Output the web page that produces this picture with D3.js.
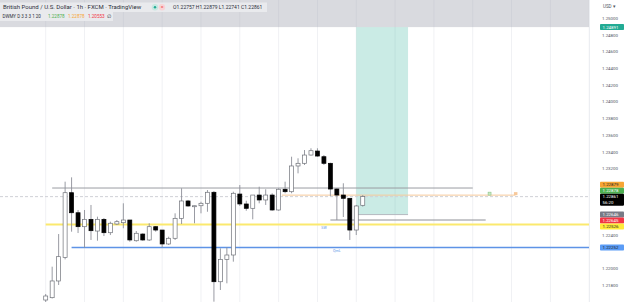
<!DOCTYPE html>
<html>
<head>
<meta charset="utf-8">
<script src="https://cdn.jsdelivr.net/npm/d3@7"></script>
<style>
  html, body { margin: 0; padding: 0; background: #fff; }
  svg { display: block; font-family: Roboto, "Noto Sans", sans-serif; }
</style>
</head>
<body>
<div id="app"></div>
<script>
// GBPUSD 1h candles
const opens = [1.21623, 1.21651, 1.21851, 1.22134, 1.22908, 1.22668, 1.22501, 1.22589, 1.22449, 1.22589,
  1.22429, 1.22533, 1.22549, 1.22581, 1.22333, 1.22413, 1.22342, 1.22501, 1.22461, 1.22294,
  1.22362, 1.22601, 1.22809, 1.22743, 1.22752, 1.22781, 1.22913, 1.21842, 1.22110, 1.22162,
  1.22892, 1.22773, 1.22721, 1.22880, 1.22821, 1.22880, 1.22701, 1.22949, 1.22920, 1.23228,
  1.23260, 1.23359, 1.23407, 1.23339, 1.23260, 1.22952, 1.22880, 1.22841, 1.22461, 1.22757];
const highs = [1.21695, 1.22022, 1.22413, 1.23040, 1.23092, 1.22701, 1.22701, 1.22761, 1.22621, 1.22605,
  1.22561, 1.22581, 1.22781, 1.22581, 1.22449, 1.22422, 1.22542, 1.22509, 1.22461, 1.22381,
  1.22661, 1.22961, 1.22821, 1.22752, 1.22800, 1.22940, 1.22928, 1.22242, 1.22254, 1.22920,
  1.23000, 1.22812, 1.22880, 1.22980, 1.22949, 1.22901, 1.22961, 1.23040, 1.23339, 1.23320,
  1.23419, 1.23440, 1.23440, 1.23359, 1.23267, 1.22961, 1.23021, 1.22841, 1.22761, 1.22879];
const lows = [1.21587, 1.21641, 1.21803, 1.22110, 1.22441, 1.22425, 1.22249, 1.22342, 1.22333, 1.22389,
  1.22401, 1.22521, 1.22482, 1.22321, 1.22321, 1.22333, 1.22330, 1.22441, 1.22254, 1.22282,
  1.22342, 1.22533, 1.22740, 1.22542, 1.22661, 1.22680, 1.21603, 1.21743, 1.21823, 1.22082,
  1.22749, 1.22692, 1.22589, 1.22781, 1.22761, 1.22692, 1.22692, 1.22901, 1.22901, 1.23140,
  1.23240, 1.23353, 1.23339, 1.23240, 1.22868, 1.22581, 1.22617, 1.22342, 1.22401, 1.22741];
const closes = [1.21671, 1.21851, 1.22142, 1.22908, 1.22668, 1.22501, 1.22589, 1.22453, 1.22589, 1.22429,
  1.22542, 1.22561, 1.22581, 1.22342, 1.22422, 1.22342, 1.22501, 1.22461, 1.22294, 1.22362,
  1.22601, 1.22809, 1.22749, 1.22752, 1.22781, 1.22913, 1.21842, 1.22110, 1.22162, 1.22901,
  1.22773, 1.22721, 1.22880, 1.22821, 1.22880, 1.22701, 1.22949, 1.22920, 1.23228, 1.23260,
  1.23359, 1.23411, 1.23347, 1.23260, 1.22952, 1.22880, 1.22841, 1.22461, 1.22749, 1.22861];

const priceTicks = [1.25, 1.248, 1.246, 1.244, 1.242, 1.24, 1.238, 1.236, 1.234, 1.232,
  1.23, 1.228, 1.226, 1.224, 1.222, 1.22, 1.218, 1.216];

// drawn levels: [price, first bar, last bar]
const rangeHigh = [1.22964, 1, 66];
const entryLine = [1.22879, 36.5, 72.6];
const sweepLow = [1.22581, 44, 68];
const yellowLevel = [1.22526, 0, 90];
const blueLevel = [1.22252, 4, 90];
const targetBox = [1.24891, 1.22646, 48, 56];
const lastPrice = 1.22861;
const countdown = '56:20';

const noteSW = [43, 1.22497, 'SW'];
const noteQml = [45, 1.22210, 'QmL'];

// price scale badges
const badgeValues = [1.24891, 1.22879, 1.22878, 1.22861, 1.22646, 1.22645, 1.22526, 1.22252];
const badgeFill = ['#22ab94', '#f7a534', '#4caf50', '#000000', '#787b86', '#f23645', '#ffeb3b', '#5b9cf6'];
const badgeInk = ['#fff', '#222', '#fff', '#fff', '#fff', '#fff', '#222', '#222'];

const title = 'British Pound / U.S. Dollar · 1h · FXCM · TradingView';
const ohlc = 'O1.22757 H1.22879 L1.22741 C1.22861';
const studyName = 'DWMY D 3 3 3 1 20';
const studyValues = ['1.22878', '1.22878', '1.20553'];

const width = 625;
const height = 302;
const plotRight = 590;

const svg = d3.select('#app')
  .append('svg')
  .attr('width', width)
  .attr('height', height);

const x = d3.scaleLinear()
  .domain([0, 84])
  .range([45.7, 589.2]);

const y = d3.scaleLinear()
  .domain([1.216, 1.25])
  .range([18 + 0.034 * 8351, 18]);

svg.append('defs').append('clipPath').attr('id', 'plot')
  .append('rect').attr('width', plotRight).attr('height', height);

const plot = svg.append('g').attr('clip-path', 'url(#plot)');

// vertical grid, one every 6 bars
plot.selectAll('line.grid')
  .data(d3.range(0, 85, 6))
  .join('line')
  .attr('x1', d => x(d)).attr('x2', d => x(d))
  .attr('y1', 0).attr('y2', height)
  .attr('stroke', '#f0f1f4')
  .attr('stroke-width', 1);

// grey band at the top
plot.append('rect')
  .attr('x', 0).attr('y', 0)
  .attr('width', plotRight).attr('height', y(targetBox[0]))
  .attr('fill', 'rgba(165,167,178,0.42)');

// target box
plot.append('rect')
  .attr('x', x(targetBox[2])).attr('y', y(targetBox[0]))
  .attr('width', x(targetBox[3]) - x(targetBox[2]))
  .attr('height', y(targetBox[1]) - y(targetBox[0]))
  .attr('fill', 'rgba(34,171,148,0.24)');
plot.append('line')
  .attr('x1', x(targetBox[2])).attr('x2', x(targetBox[3]))
  .attr('y1', y(targetBox[1])).attr('y2', y(targetBox[1]))
  .attr('stroke', '#b5b8bf').attr('stroke-width', 1);

function level(l, color, w) {
  plot.append('line')
    .attr('x1', x(l[1])).attr('x2', x(l[2]))
    .attr('y1', y(l[0])).attr('y2', y(l[0]))
    .attr('stroke', color).attr('stroke-width', w);
}

// last price dashed line
plot.append('line')
  .attr('x1', 0).attr('x2', plotRight)
  .attr('y1', y(lastPrice)).attr('y2', y(lastPrice))
  .attr('stroke', '#cfd1d6').attr('stroke-width', 1)
  .attr('stroke-dasharray', '3,2');

level(rangeHigh, '#9a9ca3', 1);
level(entryLine, '#f6c99a', 1);
level(sweepLow, '#8e9097', 1);
level(yellowLevel, '#fbe96e', 2);
level(blueLevel, '#5e93e6', 1.4);

// little markers on the entry line
plot.append('rect')
  .attr('x', x(68.6) - 1.5).attr('y', y(entryLine[0]) - 3)
  .attr('width', 3).attr('height', 3)
  .attr('fill', '#c9e6c4').attr('stroke', '#7fbf7a').attr('stroke-width', 0.5);
plot.append('rect')
  .attr('x', x(72.6) - 1.5).attr('y', y(entryLine[0]) - 3)
  .attr('width', 3.5).attr('height', 3)
  .attr('fill', '#f7c89a');

// candles
const bars = opens.map((o, i) => ({ i, o, h: highs[i], l: lows[i], c: closes[i] }));

plot.selectAll('line.wick')
  .data(bars)
  .join('line')
  .attr('x1', d => x(d.i)).attr('x2', d => x(d.i))
  .attr('y1', d => y(d.h)).attr('y2', d => y(d.l))
  .attr('stroke', '#8d9098')
  .attr('stroke-width', 0.9);

plot.selectAll('rect.body')
  .data(bars)
  .join('rect')
  .attr('x', d => x(d.i) - 2)
  .attr('width', 4)
  .attr('y', d => y(Math.max(d.o, d.c)))
  .attr('height', d => Math.max(1, Math.abs(y(d.o) - y(d.c))))
  .attr('fill', d => d.c >= d.o ? '#fff' : '#000')
  .attr('stroke', d => d.c >= d.o ? '#6f7279' : '#000')
  .attr('stroke-width', 0.7);

// blue notes
[noteSW, noteQml].forEach(n => {
  plot.append('text')
    .attr('x', x(n[0])).attr('y', y(n[1]) + 1.5)
    .attr('text-anchor', 'middle')
    .attr('font-size', 3.6)
    .attr('fill', '#5e93e6')
    .text(n[2]);
});

// legend
const legend = svg.append('g');
legend.append('rect').attr('x', 0).attr('y', 2.5).attr('width', 267).attr('height', 9.5).attr('fill', '#e9eaed');
legend.append('rect').attr('x', 0).attr('y', 12).attr('width', 113).attr('height', 9).attr('fill', '#e9eaed');
legend.append('text').attr('x', 3).attr('y', 9.2).attr('font-size', 6).attr('fill', '#2a2e39').text(title);
legend.append('circle').attr('cx', 155).attr('cy', 7.2).attr('r', 3.2).attr('fill', '#c6e8e1');
legend.append('circle').attr('cx', 155).attr('cy', 7.2).attr('r', 1.2).attr('fill', '#22ab94');
legend.append('circle').attr('cx', 162).attr('cy', 7.2).attr('r', 3.2).attr('fill', '#f8d3d5');
legend.append('text').attr('x', 162).attr('y', 9).attr('text-anchor', 'middle').attr('font-size', 5).attr('fill', '#f23645').text('=');
legend.append('text').attr('x', 173).attr('y', 9.2).attr('font-size', 5).attr('fill', '#2a2e39').text(ohlc);
legend.append('text').attr('x', 2.5).attr('y', 18).attr('font-size', 4.5).attr('fill', '#2a2e39').text(studyName);
const studyColors = ['#4caf50', '#f7a534', '#f23645'];
studyValues.forEach((v, i) => {
  legend.append('text').attr('x', 48 + i * 20).attr('y', 18).attr('font-size', 4.6)
    .attr('fill', studyColors[i]).text(v);
});
legend.append('text').attr('x', 107).attr('y', 18).attr('font-size', 4.6).attr('fill', '#2a2e39').text('∅');

// price scale
svg.append('line')
  .attr('x1', plotRight - 0.5).attr('x2', plotRight - 0.5)
  .attr('y1', 0).attr('y2', height)
  .attr('stroke', '#eceef2');

// badges stacked like TradingView does
const badges = badgeValues.map((v, i) => ({
  v, i,
  h: i === 3 ? 12 : 6,
  top: y(v) - 3
})).sort((a, b) => a.top - b.top);
const cur = badges.findIndex(b => b.i === 3);
for (let k = cur - 1; k >= 0; k--) {
  badges[k].top = Math.min(badges[k].top, badges[k + 1].top - badges[k].h);
}
for (let k = cur + 1; k < badges.length; k++) {
  badges[k].top = Math.max(badges[k].top, badges[k - 1].top + badges[k - 1].h);
}

const axisG = svg.append('g')
  .attr('transform', `translate(${plotRight + 12},0)`)
  .call(d3.axisRight(y).tickValues(priceTicks).tickSize(0).tickPadding(0).tickFormat(d3.format('.5f')));
axisG.select('.domain').remove();
axisG.selectAll('text')
  .attr('font-size', 4.4)
  .attr('fill', '#50535e')
  .attr('font-family', 'Roboto, sans-serif');
// ticks hidden behind badges or off the bottom edge
axisG.selectAll('.tick')
  .filter(d => y(d) > height - 3 || badges.some(b => y(d) > b.top - 2.5 && y(d) < b.top + b.h + 2.5))
  .remove();

const badgeG = svg.append('g');
badges.forEach(b => {
  badgeG.append('rect')
    .attr('x', 600).attr('y', b.top)
    .attr('width', 24).attr('height', b.h)
    .attr('rx', 0.8)
    .attr('fill', badgeFill[b.i]);
  badgeG.append('text')
    .attr('x', 602.5).attr('y', b.top + 4.5)
    .attr('font-size', 4.4)
    .attr('fill', badgeInk[b.i])
    .text(d3.format('.5f')(b.v));
  if (b.i === 3) {
    badgeG.append('text')
      .attr('x', 602.5).attr('y', b.top + 10.3)
      .attr('font-size', 4.4)
      .attr('fill', '#fff')
      .text(countdown);
  }
});

svg.append('text')
  .attr('x', 603).attr('y', 8)
  .attr('font-size', 4.5)
  .attr('fill', '#50535e')
  .text('USD ▾');
</script>
</body>
</html>
